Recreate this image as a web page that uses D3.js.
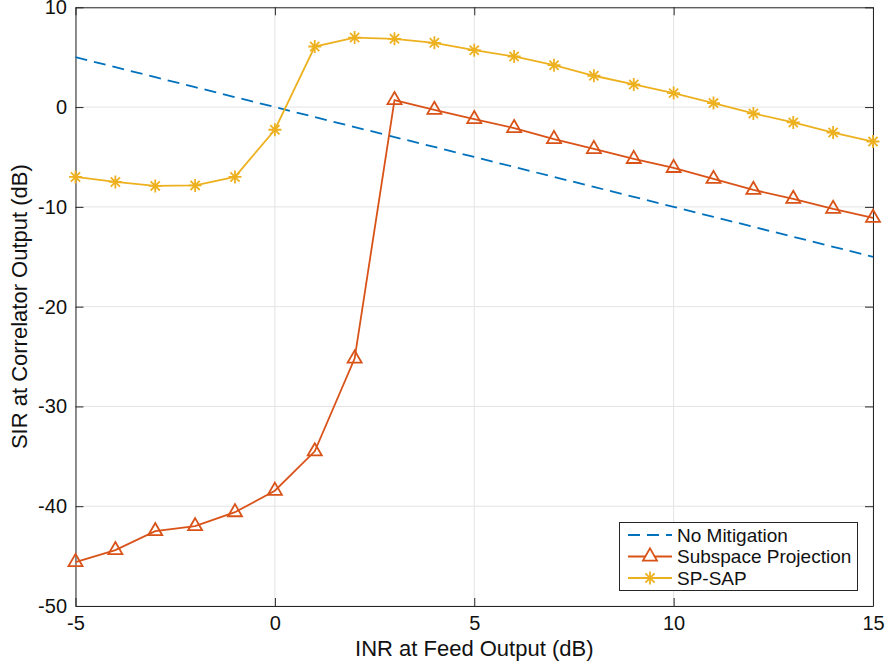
<!DOCTYPE html>
<html><head><meta charset="utf-8">
<script src="https://cdn.jsdelivr.net/npm/d3@7"></script>
<style>body{margin:0;background:#fff}svg{display:block}text{font-family:"Liberation Sans",Arial,Helvetica,sans-serif}</style>
</head><body>
<svg id="c" width="886" height="665"></svg>
<script>
const inr = [-5,-4,-3,-2,-1,0,1,2,3,4,5,6,7,8,9,10,11,12,13,14,15];
const noMitigation = [5,4,3,2,1,0,-1,-2,-3,-4,-5,-6,-7,-8,-9,-10,-11,-12,-13,-14,-15];
const subspaceProjection = [-45.6,-44.4,-42.5,-42.0,-40.6,-38.45,-34.5,-25.2,0.7,-0.27,-1.2,-2.1,-3.2,-4.2,-5.2,-6.1,-7.2,-8.3,-9.2,-10.2,-11.1];
const spSap = [-7.0,-7.5,-7.9,-7.85,-7.0,-2.27,6.07,6.97,6.84,6.44,5.7,5.07,4.2,3.14,2.27,1.4,0.4,-0.64,-1.54,-2.55,-3.45];
const xTicks = [-5,0,5,10,15];
const yTicks = [-50,-40,-30,-20,-10,0,10];
const seriesNames = ["No Mitigation","Subspace Projection","SP-SAP"];
const colors = ["#0072BD","#D95319","#EDB120"];

const svg = d3.select("#c");
const L=75.5, R=873, T=7.3, B=606;
const x = d3.scaleLinear().domain([-5,15]).range([L,R]);
const y = d3.scaleLinear().domain([-50,10]).range([B,T]);
const fmt = d => String(d);
const sw = 1.8;

// grid
const g = svg.append("g");
g.selectAll(".gx").data(xTicks).enter().append("line")
  .attr("x1",d=>x(d)).attr("x2",d=>x(d)).attr("y1",T).attr("y2",B)
  .attr("stroke","#e3e3e3").attr("stroke-width",1);
g.selectAll(".gy").data(yTicks).enter().append("line")
  .attr("y1",d=>y(d)).attr("y2",d=>y(d)).attr("x1",L).attr("x2",R)
  .attr("stroke","#e3e3e3").attr("stroke-width",1);

// axes
const axCol="#262626";
const tl = 8;
const xa = svg.append("g").attr("transform",`translate(0,${B})`)
  .call(d3.axisBottom(x).tickValues(xTicks).tickSizeInner(-tl).tickSizeOuter(0).tickPadding(10).tickFormat(fmt));
const xt = svg.append("g").attr("transform",`translate(0,${T})`)
  .call(d3.axisTop(x).tickValues(xTicks).tickSizeInner(-tl).tickSizeOuter(0).tickFormat(""));
const ya = svg.append("g").attr("transform",`translate(${L},0)`)
  .call(d3.axisLeft(y).tickValues(yTicks).tickSizeInner(-tl).tickSizeOuter(0).tickPadding(8.5).tickFormat(fmt));
const yr = svg.append("g").attr("transform",`translate(${R},0)`)
  .call(d3.axisRight(y).tickValues(yTicks).tickSizeInner(-tl).tickSizeOuter(0).tickFormat(""));
[xa,xt,ya,yr].forEach(a=>{
  a.select(".domain").attr("stroke",axCol).attr("stroke-width",1);
  a.selectAll(".tick line").attr("stroke",axCol);
  a.selectAll(".tick text").attr("fill","#111").attr("font-size",20);
});

const lineGen = d3.line().x((d,i)=>x(inr[i])).y(d=>y(d));

// No mitigation
svg.append("path").datum(noMitigation).attr("d",lineGen)
  .attr("fill","none").attr("stroke",colors[0]).attr("stroke-width",sw).attr("stroke-dasharray","12,7");

// Subspace projection
svg.append("path").datum(subspaceProjection).attr("d",lineGen)
  .attr("fill","none").attr("stroke",colors[1]).attr("stroke-width",sw);
const tri = d3.symbol().type(d3.symbolTriangle).size(85);
svg.selectAll(".tri").data(subspaceProjection).enter().append("path")
  .attr("d",tri).attr("transform",(d,i)=>`translate(${x(inr[i])},${y(d)})`)
  .attr("fill","none").attr("stroke",colors[1]).attr("stroke-width",sw);

// SP-SAP
svg.append("path").datum(spSap).attr("d",lineGen)
  .attr("fill","none").attr("stroke",colors[2]).attr("stroke-width",sw);
function star(s){const r=s/2, a=r*0.707;return `M${-r},0L${r},0M0,${-r}L0,${r}M${-a},${-a}L${a},${a}M${-a},${a}L${a},${-a}`;}
svg.selectAll(".st").data(spSap).enter().append("path")
  .attr("d",star(13)).attr("transform",(d,i)=>`translate(${x(inr[i])},${y(d)})`)
  .attr("fill","none").attr("stroke",colors[2]).attr("stroke-width",sw);

// labels
svg.append("text").attr("x",(L+R)/2).attr("y",656).attr("text-anchor","middle")
  .attr("font-size",22).attr("fill","#111").text("INR at Feed Output (dB)");
svg.append("text").attr("transform",`translate(27,${(T+B)/2}) rotate(-90)`).attr("text-anchor","middle")
  .attr("font-size",22).attr("fill","#111").text("SIR at Correlator Output (dB)");

// legend
const lg = svg.append("g");
lg.append("rect").attr("x",619.5).attr("y",522.5).attr("width",238).attr("height",68)
  .attr("fill","#fff").attr("stroke",axCol).attr("stroke-width",1);
const ly = [535,556.5,578];
seriesNames.forEach((n,i)=>{
  const l = lg.append("line").attr("x1",628).attr("x2",672).attr("y1",ly[i]).attr("y2",ly[i])
    .attr("stroke",colors[i]).attr("stroke-width",sw);
  if(i===0) l.attr("stroke-dasharray","12,7");
  if(i===1) lg.append("path").attr("d",tri).attr("transform",`translate(650,${ly[i]})`)
    .attr("fill","#fff").attr("stroke",colors[1]).attr("stroke-width",sw);
  if(i===2) lg.append("path").attr("d",star(13)).attr("transform",`translate(650,${ly[i]})`)
    .attr("fill","none").attr("stroke",colors[2]).attr("stroke-width",sw);
  lg.append("text").attr("x",677).attr("y",ly[i]).attr("dy","0.35em")
    .attr("font-size",19).attr("fill","#111").text(n);
});
</script>
</body></html>
